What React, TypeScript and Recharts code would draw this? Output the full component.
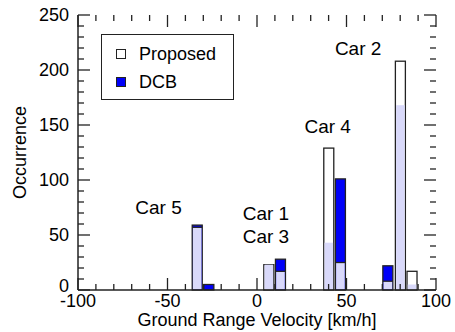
import React from 'react';
import { ComposedChart, Bar, XAxis, YAxis, ReferenceDot, ReferenceLine } from 'recharts';

// histogram bins (km/h, bin centre) and counts
const binCenters = [-33.5, -27, 6.5, 13, 40, 46.5, 73, 80, 86.5];
const proposed = [57, 0, 23, 17, 129, 25, 8, 208, 17];
const dcb = [59, 5, 23, 28, 43, 101, 22, 168, 5];

const xTicks = [-100, -90, -80, -70, -60, -50, -40, -30, -20, -10, 0, 10, 20, 30, 40, 50, 60, 70, 80, 90, 100];
const yTicks = [0, 10, 20, 30, 40, 50, 60, 70, 80, 90, 100, 110, 120, 130, 140, 150, 160, 170, 180, 190, 200, 210, 220, 230, 240, 250];

const carNames = ['Car 5', 'Car 1', 'Car 3', 'Car 4', 'Car 2'];
const carX = [-55, 5, 5, 39.5, 56.5];
const carY = [75, 70, 49, 149, 220];

const legendItems = ['Proposed', 'DCB'];

const FONT = '"Liberation Sans", Arial, Helvetica, sans-serif';
const BLUE = '#0000f8';
const LAVENDER = '#d9d9fa';
const INK = '#222';

// inward tick lengths, converted from pixels to data units
const X_PER_PX = 200 / 358;
const Y_PER_PX = 250 / 275;
const MAJOR = 12;
const MINOR = 6;

const data = binCenters.map((x, i) => ({
  x,
  proposed: proposed[i],
  dcb: dcb[i],
  top: Math.max(proposed[i], dcb[i]),
}));

const HistShape = (props: any) => {
  const { x, y, width, height, payload } = props;
  if (!height || height <= 0) return null;
  const p = payload.proposed;
  const d = payload.dcb;
  const hi = Math.max(p, d);
  const lo = Math.min(p, d);
  const oh = hi > 0 ? (height * lo) / hi : 0;
  const dcbOnTop = d > p;
  return (
    <g>
      <rect x={x} y={y} width={width} height={height} fill={dcbOnTop ? BLUE : '#fff'} stroke={INK} strokeWidth={1.3} />
      {oh > 0 && (
        <rect x={x + 0.7} y={y + height - oh} width={width - 1.4} height={oh - 0.7} fill={LAVENDER} />
      )}
      {oh > 0 && dcbOnTop && (
        <line x1={x} x2={x + width} y1={y + height - oh} y2={y + height - oh} stroke={INK} strokeWidth={1.3} />
      )}
    </g>
  );
};

const BottomTick = (props: any) => {
  const { x, y, payload } = props;
  if (payload.value % 50 !== 0) return <g />;
  return (
    <text x={x} y={y + 17} textAnchor="middle" fontSize={18} fontFamily={FONT} fill="#000">
      {payload.value}
    </text>
  );
};

const LeftTick = (props: any) => {
  const { x, y, payload } = props;
  if (payload.value % 50 !== 0) return <g />;
  return (
    <text x={x - 9} y={y} dy={payload.value === 0 ? 2 : 6} textAnchor="end" fontSize={18} fontFamily={FONT} fill="#000">
      {payload.value}
    </text>
  );
};

const LegendBox = () => (
  <div
    style={{
      position: 'absolute',
      left: 101,
      top: 34,
      width: 133,
      height: 66,
      border: '1.3px solid #222',
      background: '#fff',
      fontFamily: FONT,
      fontSize: 18,
      color: '#000',
      boxSizing: 'border-box',
      paddingLeft: 14,
      paddingTop: 5,
    }}
  >
    {legendItems.map((name, i) => (
      <div key={name} style={{ display: 'flex', alignItems: 'center', height: 28 }}>
        <span style={{ width: 10, height: 10, border: '1.3px solid #222', background: i === 0 ? '#fff' : BLUE, boxSizing: 'border-box', marginRight: 13 }} />
        <span>{name}</span>
      </div>
    ))}
  </div>
);

const tickLine = { stroke: INK, strokeWidth: 1.3 };

export default function App() {
  return (
    <div style={{ position: 'absolute', left: 0, top: 0, width: 455, height: 332, background: '#fff' }}>
      <ComposedChart width={455} height={332} data={data} margin={{ top: 15, right: 19, bottom: 0, left: 0 }}>
        <XAxis
          xAxisId="b"
          dataKey="x"
          type="number"
          domain={[-100, 100]}
          ticks={xTicks}
          interval={0}
          height={42}
          tickSize={0}
          tickMargin={0}
          tickLine={false}
          axisLine={{ stroke: INK, strokeWidth: 1.5 }}
          tick={(p: any) => <BottomTick {...p} />}
          label={{ value: 'Ground Range Velocity [km/h]', position: 'insideBottom', offset: 6, fontSize: 18, fontFamily: FONT, fill: '#000' }}
        />
        <XAxis
          xAxisId="t"
          orientation="top"
          type="number"
          domain={[-100, 100]}
          height={0}
          tick={false}
          tickLine={false}
          axisLine={{ stroke: INK, strokeWidth: 1.5 }}
        />
        <YAxis
          yAxisId="l"
          type="number"
          domain={[0, 250]}
          ticks={yTicks}
          interval={0}
          width={78}
          tickSize={0}
          tickMargin={0}
          tickLine={false}
          axisLine={{ stroke: INK, strokeWidth: 1.5 }}
          tick={(p: any) => <LeftTick {...p} />}
          label={{ value: 'Occurrence', angle: -90, position: 'insideLeft', offset: 20, fontSize: 18, fontFamily: FONT, fill: '#000', style: { textAnchor: 'middle' } }}
        />
        <YAxis
          yAxisId="r"
          orientation="right"
          type="number"
          domain={[0, 250]}
          width={0}
          tick={false}
          tickLine={false}
          axisLine={{ stroke: INK, strokeWidth: 1.5 }}
        />
        {xTicks.map((v) => {
          const len = (v % 50 === 0 ? MAJOR : MINOR) * Y_PER_PX;
          return [
            <ReferenceLine key={`xb${v}`} xAxisId="b" yAxisId="l" ifOverflow="visible" segment={[{ x: v, y: 0 }, { x: v, y: len }]} {...tickLine} />,
            <ReferenceLine key={`xt${v}`} xAxisId="b" yAxisId="l" ifOverflow="visible" segment={[{ x: v, y: 250 }, { x: v, y: 250 - len }]} {...tickLine} />,
          ];
        })}
        {yTicks.map((v) => {
          const len = (v % 50 === 0 ? MAJOR : MINOR) * X_PER_PX;
          return [
            <ReferenceLine key={`yl${v}`} xAxisId="b" yAxisId="l" ifOverflow="visible" segment={[{ x: -100, y: v }, { x: -100 + len, y: v }]} {...tickLine} />,
            <ReferenceLine key={`yr${v}`} xAxisId="b" yAxisId="l" ifOverflow="visible" segment={[{ x: 100, y: v }, { x: 100 - len, y: v }]} {...tickLine} />,
          ];
        })}
        <Bar xAxisId="b" yAxisId="l" dataKey="top" barSize={10} shape={HistShape} isAnimationActive={false} />
        {carNames.map((name, i) => (
          <ReferenceDot
            key={name}
            xAxisId="b"
            yAxisId="l"
            x={carX[i]}
            y={carY[i]}
            r={0}
            stroke="none"
            fill="none"
            ifOverflow="visible"
            label={{ value: name, position: 'center', fontSize: 19, fontFamily: FONT, fill: '#000' }}
          />
        ))}
      </ComposedChart>
      <LegendBox />
    </div>
  );
}
